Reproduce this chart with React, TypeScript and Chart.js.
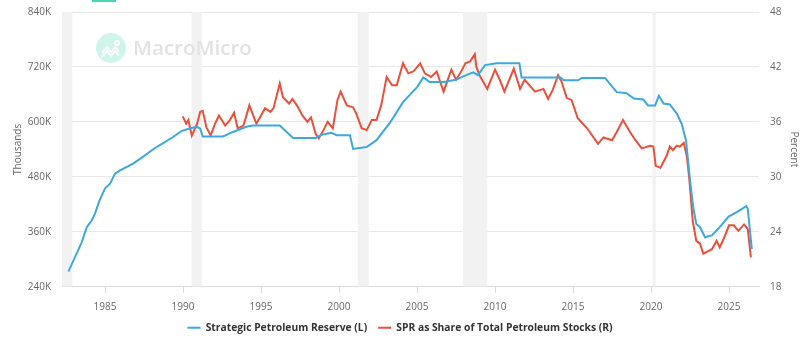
import React, { useEffect, useRef } from 'react';
import { Chart, registerables } from 'chart.js';

Chart.register(...registerables);

// Strategic Petroleum Reserve, thousand barrels (left axis)
const sprYears = [
  1982.65, 1982.97, 1983.5, 1983.83, 1984.15, 1984.36, 1984.64, 1985.0, 1985.32, 1985.64,
  1985.96, 1986.8, 1987.4, 1988.2, 1988.7, 1989.36, 1989.9, 1990.45, 1990.9, 1991.1,
  1991.26, 1992.56, 1993.2, 1994.1, 1994.5, 1996.2, 1997.05, 1998.5, 1998.9, 1999.5,
  1999.85, 2000.7, 2000.9, 2001.77, 2002.4, 2003.3, 2004.1, 2005.0, 2005.4, 2005.8,
  2006.7, 2007.5, 2008.0, 2008.6, 2008.9, 2009.36, 2010.1, 2011.56, 2011.7, 2014.2,
  2014.4, 2015.33, 2015.55, 2017.05, 2017.8, 2018.4, 2018.9, 2019.5, 2019.8, 2020.26,
  2020.5, 2020.8, 2021.2, 2021.65, 2021.96, 2022.24, 2022.5, 2022.7, 2022.9, 2023.14,
  2023.46, 2023.9, 2024.4, 2024.97, 2025.5, 2026.1, 2026.2, 2026.46,
];
const sprValues = [
  273, 297, 337, 370, 385, 400, 428, 455, 465, 487,
  494, 509, 523, 543, 553, 567, 580, 586, 589, 585,
  568, 568, 578, 590, 592, 592, 565, 565, 572, 576,
  571, 571, 541, 545, 560, 600, 643, 676, 697, 687,
  687, 692, 700, 708, 702, 724, 728, 728, 697, 697,
  691, 691, 696, 696, 665, 663, 651, 649, 636, 636,
  657, 640, 638, 618, 596, 560, 472, 414, 377, 370,
  348, 352, 370, 393, 403, 416, 410, 322,
];

// SPR as a share of total petroleum stocks, percent (right axis)
const shareYears = [
  1989.98, 1990.2, 1990.34, 1990.56, 1990.77, 1990.9, 1991.1, 1991.26, 1991.5, 1991.77,
  1992.05, 1992.3, 1992.7, 1993.0, 1993.27, 1993.5, 1993.87, 1994.25, 1994.7, 1995.26,
  1995.6, 1995.8, 1996.2, 1996.4, 1996.8, 1997.0, 1997.3, 1997.65, 1997.97, 1998.2,
  1998.5, 1998.7, 1999.0, 1999.27, 1999.6, 1999.9, 2000.1, 2000.5, 2000.9, 2001.1,
  2001.45, 2001.77, 2002.1, 2002.4, 2002.7, 2003.05, 2003.4, 2003.7, 2004.1, 2004.44,
  2004.76, 2005.2, 2005.5, 2005.9, 2006.26, 2006.7, 2007.2, 2007.5, 2007.76, 2008.1,
  2008.4, 2008.7, 2008.8, 2009.0, 2009.5, 2010.0, 2010.3, 2010.6, 2011.2, 2011.6,
  2011.9, 2012.56, 2013.1, 2013.4, 2013.7, 2014.04, 2014.26, 2014.6, 2014.9, 2015.3,
  2015.9, 2016.6, 2016.95, 2017.5, 2017.8, 2018.2, 2018.65, 2019.0, 2019.4, 2019.94,
  2020.15, 2020.3, 2020.6, 2021.0, 2021.2, 2021.4, 2021.65, 2021.85, 2022.1, 2022.3,
  2022.46, 2022.67, 2022.9, 2023.14, 2023.35, 2023.57, 2023.9, 2024.2, 2024.4, 2024.7,
  2025.0, 2025.3, 2025.6, 2025.96, 2026.2, 2026.4,
];
const shareValues = [
  36.6, 35.8, 36.2, 34.5, 35.3, 35.8, 37.1, 37.2, 35.4, 34.5,
  35.8, 36.7, 35.6, 36.2, 37.0, 35.3, 35.6, 37.8, 35.8, 37.5,
  37.1, 37.5, 40.2, 38.7, 38.0, 38.5, 37.8, 36.7, 36.0, 36.5,
  34.7, 34.2, 35.1, 36.0, 35.3, 38.4, 39.3, 37.8, 37.6, 36.9,
  35.3, 35.1, 36.2, 36.2, 37.8, 40.9, 40.0, 40.0, 42.4, 41.3,
  41.5, 42.4, 41.3, 40.9, 41.5, 39.3, 41.7, 40.6, 41.3, 42.4,
  42.6, 43.4, 42.0, 41.1, 39.6, 41.7, 40.6, 39.3, 41.8, 39.6,
  40.6, 39.3, 39.6, 38.5, 39.5, 41.1, 40.4, 38.6, 38.4, 36.4,
  35.3, 33.6, 34.3, 34.0, 34.9, 36.2, 34.9, 34.0, 33.1, 33.4,
  33.3, 31.2, 31.0, 32.3, 33.3, 32.9, 33.4, 33.3, 33.7, 32.2,
  29.6, 25.2, 23.0, 22.7, 21.6, 21.8, 22.1, 23.0, 22.3, 23.4,
  24.7, 24.7, 24.1, 24.8, 24.3, 21.2,
];

// US recession periods (start, end) in decimal years
const recessions: [number, number][] = [
  [1981.55, 1982.9],
  [1990.55, 1991.2],
  [2001.2, 2001.9],
  [2007.95, 2009.5],
  [2020.1, 2020.3],
];

const xTicks = [1985, 1990, 1995, 2000, 2005, 2010, 2015, 2020, 2025];

const BLUE = '#3ea8dc';
const RED = '#e9503c';
const FONT = '"Open Sans", "Noto Sans", sans-serif';

const backdrop = {
  id: 'backdrop',
  beforeDatasetsDraw(chart: any) {
    const { ctx, chartArea, scales } = chart;
    const x = scales.x;
    ctx.save();
    ctx.beginPath();
    ctx.rect(chartArea.left, chartArea.top, chartArea.width, chartArea.height);
    ctx.clip();
    ctx.fillStyle = '#f2f2f2';
    for (const [a, b] of recessions) {
      const x1 = x.getPixelForValue(a);
      const x2 = x.getPixelForValue(b);
      ctx.fillRect(x1, chartArea.top, x2 - x1, chartArea.height);
    }
    ctx.restore();

    // brand watermark
    ctx.save();
    const cx = 111;
    const cy = 48;
    ctx.fillStyle = '#cff5ea';
    ctx.beginPath();
    ctx.arc(cx, cy, 15, 0, Math.PI * 2);
    ctx.fill();
    ctx.strokeStyle = '#ffffff';
    ctx.lineWidth = 1.8;
    ctx.lineJoin = 'round';
    ctx.beginPath();
    ctx.moveTo(cx - 9, cy + 5);
    ctx.lineTo(cx - 4, cy - 1);
    ctx.lineTo(cx, cy + 4);
    ctx.lineTo(cx + 4, cy - 1);
    ctx.lineTo(cx + 8, cy + 4);
    ctx.stroke();
    ctx.beginPath();
    ctx.moveTo(cx - 9, cy + 9);
    ctx.lineTo(cx - 4, cy + 3);
    ctx.lineTo(cx, cy + 8);
    ctx.lineTo(cx + 4, cy + 3);
    ctx.lineTo(cx + 8, cy + 8);
    ctx.stroke();
    ctx.beginPath();
    ctx.arc(cx + 6, cy - 5, 2, 0, Math.PI * 2);
    ctx.stroke();

    // brand name sized to span its slot
    const word = 'MacroMicro';
    let size = 19;
    ctx.font = `600 ${size}px ${FONT}`;
    const w = ctx.measureText(word).width;
    if (w > 0) size = Math.max(12, Math.min(30, (size * 119) / w));
    ctx.font = `600 ${size}px ${FONT}`;
    ctx.fillStyle = '#e2e2e2';
    ctx.textBaseline = 'middle';
    ctx.textAlign = 'left';
    ctx.fillText(word, 133, cy + 1);
    ctx.fillStyle = '#48d6b3';
    ctx.fillRect(92, 0, 24, 2);
    ctx.restore();
  },
};

// keep the wide label gap from pushing the plot area down
const trimVerticalPadding = (s: any, width: number) => {
  s.width = width;
  s.paddingTop = 6;
  s.paddingBottom = 6;
};

export default function App() {
  const canvasRef = useRef<HTMLCanvasElement | null>(null);

  useEffect(() => {
    const canvas = canvasRef.current;
    if (!canvas) return;
    const chart = new Chart(canvas, {
      type: 'line',
      data: {
        datasets: [
          {
            label: 'Strategic Petroleum Reserve (L)',
            data: sprYears.map((y, i) => ({ x: y, y: sprValues[i] })),
            borderColor: BLUE,
            backgroundColor: BLUE,
            borderWidth: 2,
            pointRadius: 0,
            tension: 0,
            yAxisID: 'y',
          },
          {
            label: 'SPR as Share of Total Petroleum Stocks (R)',
            data: shareYears.map((y, i) => ({ x: y, y: shareValues[i] })),
            borderColor: RED,
            backgroundColor: RED,
            borderWidth: 2,
            pointRadius: 0,
            tension: 0,
            yAxisID: 'y1',
          },
        ],
      },
      options: {
        animation: false,
        responsive: false,
        layout: { padding: { top: 12, left: 0, right: 0, bottom: 4 } },
        plugins: {
          tooltip: { enabled: false },
          legend: {
            position: 'bottom',
            labels: {
              color: '#333',
              font: { family: FONT, size: 10.3, weight: 'bold' },
              boxWidth: 13,
              boxHeight: 2,
              padding: 11,
              generateLabels: (c: any) =>
                Chart.defaults.plugins.legend.labels
                  .generateLabels(c)
                  .map((l: any) => ({ ...l, lineWidth: 0, strokeStyle: 'rgba(0,0,0,0)' })),
            },
          },
        },
        scales: {
          x: {
            type: 'linear',
            min: 1982.24,
            max: 2026.92,
            afterBuildTicks: (s: any) => {
              s.ticks = xTicks.map((v) => ({ value: v }));
            },
            afterFit: (s: any) => {
              s.height = 25;
            },
            ticks: {
              color: '#666',
              font: { family: FONT, size: 10 },
              padding: 8,
              maxRotation: 0,
              autoSkip: false,
              callback: (v: any) => String(v),
            },
            grid: { drawOnChartArea: false, drawTicks: true, tickLength: 6, color: '#dcdcdc' },
            border: { color: '#dcdcdc' },
          },
          y: {
            position: 'left',
            min: 240,
            max: 840,
            afterFit: (s: any) => trimVerticalPadding(s, 62),
            ticks: {
              stepSize: 120,
              color: '#666',
              font: { family: FONT, size: 10 },
              padding: 11,
              callback: (v: any) => `${v}K`,
            },
            grid: { color: '#e8e8e8', drawTicks: false },
            border: { display: false },
            title: {
              display: true,
              text: 'Thousands',
              color: '#666',
              font: { family: FONT, size: 10 },
              padding: { top: 12, bottom: 0 },
            },
          },
          y1: {
            position: 'right',
            min: 18,
            max: 48,
            afterFit: (s: any) => trimVerticalPadding(s, 41),
            ticks: {
              stepSize: 6,
              color: '#666',
              font: { family: FONT, size: 10 },
              padding: 11,
            },
            grid: { drawOnChartArea: false, drawTicks: false },
            border: { display: false },
            title: {
              display: true,
              text: 'Percent',
              color: '#666',
              font: { family: FONT, size: 10 },
              padding: { top: 0, bottom: 4 },
            },
          },
        },
      },
      plugins: [backdrop],
    });
    return () => chart.destroy();
  }, []);

  return (
    <div style={{ position: 'fixed', left: 0, top: 0, width: 800, height: 347, background: '#fff' }}>
      <canvas ref={canvasRef} width={800} height={347} style={{ display: 'block' }} />
    </div>
  );
}
